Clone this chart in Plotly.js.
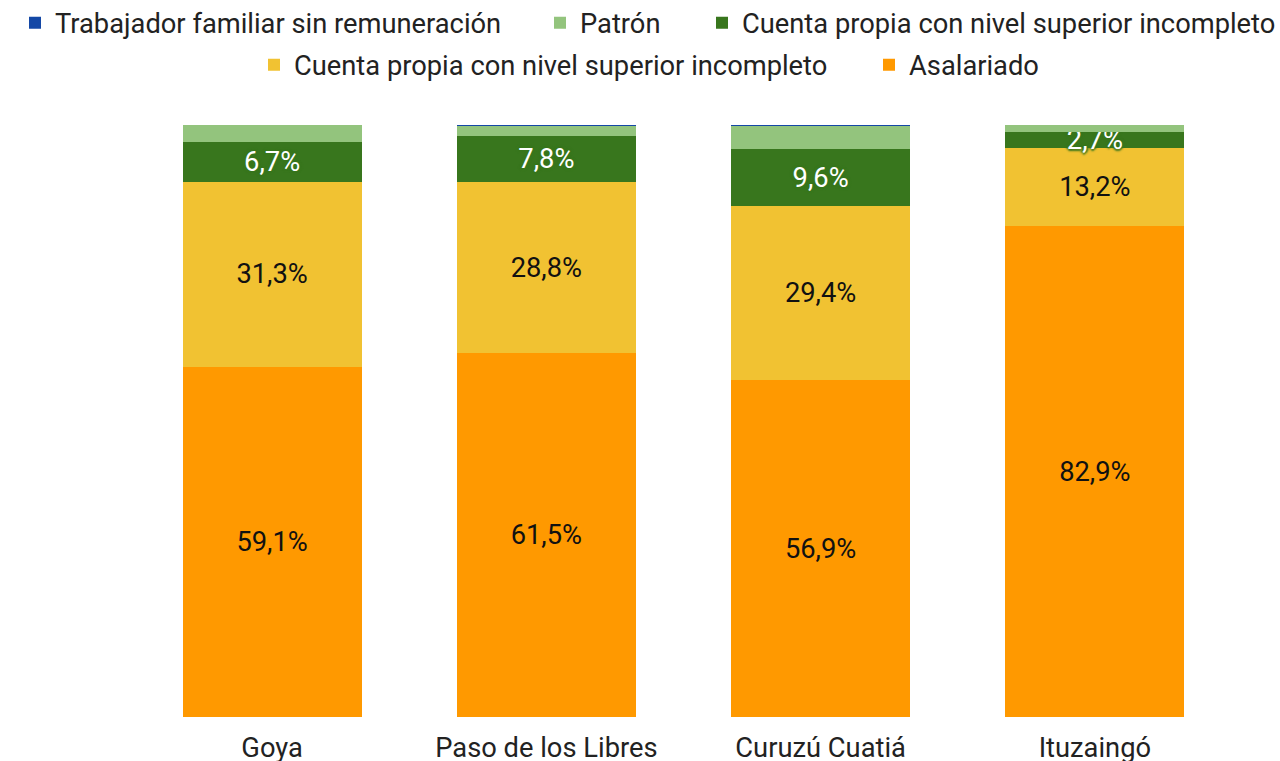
<!DOCTYPE html>
<html><head><meta charset="utf-8">
<script src="https://cdn.plot.ly/plotly-3.0.1.min.js"></script>
<style>body{margin:0;background:#fff}#chart{width:1280px;height:761px}</style>
</head><body><div id="chart"></div>
<script>
const categories = ["Goya", "Paso de los Libres", "Curuzú Cuatiá", "Ituzaingó"];
const asalariado = [59.1, 61.5, 56.9, 82.9];
const cuentaPropiaAmarillo = [31.3, 28.8, 29.4, 13.2];
const cuentaPropiaVerde = [6.7, 7.8, 9.6, 2.7];
const patron = [2.9, 1.7, 3.9, 1.2];
const trabajadorFamiliar = [0, 0.2, 0.2, 0];

const FONT = "Roboto, Arial, sans-serif";
const FS = 27.3;

function bar(name, y, color, legend, showText, textColor, extraFont) {
  const t = {
    type: "bar", name: name, x: categories, y: y,
    marker: {color: color, line: {width: 0}},
    legend: legend,
    hoverinfo: "skip"
  };
  if (showText) {
    t.texttemplate = "%{y:.1f}%";
    t.textposition = "inside";
    t.insidetextanchor = "middle";
    t.textfont = Object.assign({family: FONT, size: FS, color: textColor}, extraFont || {});
  } else {
    t.textposition = "none";
  }
  return t;
}

const G = "#38761d";
const data = [
  bar("Asalariado", asalariado, "#ff9900", "legend5", true, "#111"),
  bar("Cuenta propia con nivel superior incompleto", cuentaPropiaAmarillo, "#f1c232", "legend4", true, "#111"),
  bar("Cuenta propia con nivel superior incompleto", cuentaPropiaVerde, G, "legend3", true, "#ffffff",
      {shadow: `2px 0px 2px ${G}, -2px 0px 2px ${G}, 0px 2px 2px ${G}, 0px -2px 2px ${G}`}),
  bar("Patrón", patron, "#93c47d", "legend2", false),
  bar("Trabajador familiar sin remuneración", trabajadorFamiliar, "#1448a6", "legend", false)
];

function leg(textStartPx, rowCenterPx) {
  return {
    orientation: "h", xref: "container", x: (textStartPx - 40) / 1280, xanchor: "left",
    yref: "container", y: 1 - rowCenterPx / 761, yanchor: "middle",
    font: {family: FONT, size: FS, color: "#222"},
    bgcolor: "rgba(0,0,0,0)", borderwidth: 0
  };
}

const layout = {
  width: 1280, height: 761,
  margin: {l: 135, r: 48, t: 125, b: 44},
  barmode: "stack",
  bargap: 0.347,
  separators: ",.",
  paper_bgcolor: "#fff", plot_bgcolor: "#fff",
  font: {family: FONT, size: FS, color: "#222"},
  uniformtext: {mode: "show", minsize: FS},
  xaxis: {
    type: "category", showgrid: false, zeroline: false, showline: false,
    ticks: "", ticklabelstandoff: 12,
    tickfont: {family: FONT, size: FS, color: "#222"}, fixedrange: true
  },
  yaxis: {
    range: [0, 100], visible: false, showgrid: false, zeroline: false, fixedrange: true
  },
  legend: leg(55, 23),
  legend2: leg(580, 23),
  legend3: leg(742, 23),
  legend4: leg(294, 65),
  legend5: leg(909, 65),
  showlegend: true
};

Plotly.newPlot("chart", data, layout, {displayModeBar: false, staticPlot: true});
</script></body></html>
